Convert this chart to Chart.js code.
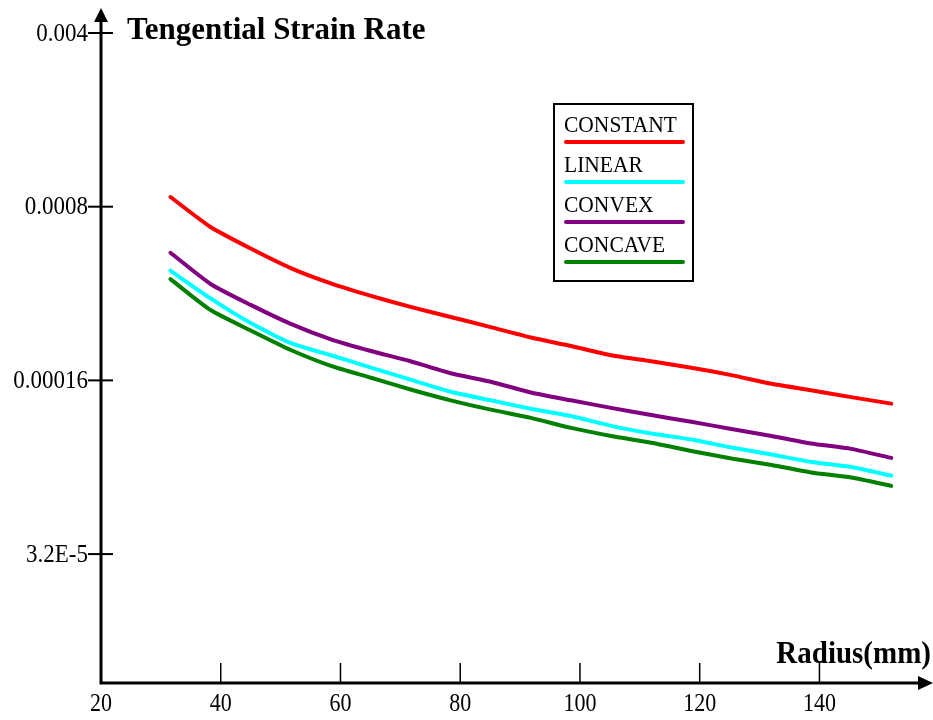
<!DOCTYPE html>
<html><head><meta charset="utf-8">
<script src="https://cdn.jsdelivr.net/npm/chart.js@4/dist/chart.umd.min.js"></script>
<style>html,body{margin:0;padding:0;background:#fff;}#wrap{width:933px;height:720px;position:relative;}</style>
</head><body><div id="wrap"><canvas id="c" width="933" height="720"></canvas></div>
<script>
const radius = [31.6, 38.3, 45.0, 51.7, 58.4, 65.1, 71.7, 78.4, 85.1, 91.8, 98.5, 105.2, 111.9, 118.6, 125.3, 132.0, 138.6, 145.3, 152.0];
const constantRate = [8.75e-4, 6.63e-4, 5.43e-4, 4.53e-4, 3.93e-4, 3.50e-4, 3.16e-4, 2.88e-4, 2.62e-4, 2.38e-4, 2.20e-4, 2.02e-4, 1.91e-4, 1.80e-4, 1.68e-4, 1.55e-4, 1.46e-4, 1.37e-4, 1.29e-4];
const linearRate = [4.42e-4, 3.42e-4, 2.72e-4, 2.26e-4, 2.02e-4, 1.80e-4, 1.61e-4, 1.44e-4, 1.33e-4, 1.23e-4, 1.15e-4, 1.05e-4, 9.78e-5, 9.25e-5, 8.59e-5, 8.05e-5, 7.51e-5, 7.17e-5, 6.62e-5];
const convexRate = [5.22e-4, 3.91e-4, 3.22e-4, 2.70e-4, 2.34e-4, 2.10e-4, 1.91e-4, 1.71e-4, 1.58e-4, 1.43e-4, 1.33e-4, 1.24e-4, 1.16e-4, 1.09e-4, 1.02e-4, 9.56e-5, 8.92e-5, 8.48e-5, 7.80e-5];
const concaveRate = [4.09e-4, 3.07e-4, 2.54e-4, 2.12e-4, 1.83e-4, 1.64e-4, 1.47e-4, 1.33e-4, 1.22e-4, 1.13e-4, 1.03e-4, 9.56e-5, 8.98e-5, 8.32e-5, 7.76e-5, 7.31e-5, 6.82e-5, 6.50e-5, 6.02e-5];
const seriesNames = ['CONSTANT', 'LINEAR', 'CONVEX', 'CONCAVE'];
const seriesColors = ['#ff0000', '#00ffff', '#800080', '#008000'];
const xTicks = [20, 40, 60, 80, 100, 120, 140];
const yTicks = [0.004, 0.0008, 0.00016, 3.2e-5];
const yTickLabels = ['0.004', '0.0008', '0.00016', '3.2E-5'];
const yTitle = 'Tengential Strain Rate';
const xTitle = 'Radius(mm)';

const allSeries = [constantRate, linearRate, convexRate, concaveRate];
const datasets = allSeries.map((vals, i) => ({
  label: seriesNames[i],
  data: radius.map((r, j) => ({x: r, y: vals[j]})),
  borderColor: seriesColors[i],
  backgroundColor: seriesColors[i],
  borderWidth: 4,
  pointRadius: 0,
  tension: 0.2,
  fill: false,
  borderCapStyle: 'round',
  borderJoinStyle: 'round'
}));

function tallText(ctx, text, x, y, sy) {
  ctx.save();
  ctx.translate(x, y);
  ctx.scale(1, sy);
  ctx.fillText(text, 0, 0);
  ctx.restore();
}

const axesPlugin = {
  id: 'axesPlugin',
  afterDraw(chart) {
    const ctx = chart.ctx;
    const xs = chart.scales.x, ys = chart.scales.y;
    const ca = chart.chartArea;
    const ax = xs.getPixelForValue(20);
    const ay = ca.bottom;
    ctx.save();
    ctx.strokeStyle = '#000';
    ctx.fillStyle = '#000';
    ctx.lineWidth = 3;
    ctx.beginPath();
    ctx.moveTo(ax, ay + 1.5);
    ctx.lineTo(ax, 20);
    ctx.moveTo(ax - 1.5, ay);
    ctx.lineTo(920, ay);
    ctx.stroke();
    ctx.beginPath();
    ctx.moveTo(ax, 8); ctx.lineTo(ax - 7, 22); ctx.lineTo(ax + 7, 22); ctx.closePath(); ctx.fill();
    ctx.beginPath();
    ctx.moveTo(933, ay); ctx.lineTo(918, ay - 7); ctx.lineTo(918, ay + 7); ctx.closePath(); ctx.fill();
    // y ticks
    ctx.lineWidth = 2;
    ctx.font = '23px "Liberation Serif"';
    ctx.textAlign = 'right';
    ctx.textBaseline = 'middle';
    yTicks.forEach((v, i) => {
      const py = ys.getPixelForValue(v);
      ctx.beginPath(); ctx.moveTo(ax - 13, py); ctx.lineTo(ax + 12, py); ctx.stroke();
      tallText(ctx, yTickLabels[i], ax - 13, py + 1, 1.1);
    });
    // x ticks
    ctx.lineWidth = 1.5;
    ctx.font = '22px "Liberation Serif"';
    ctx.textAlign = 'center';
    ctx.textBaseline = 'middle';
    xTicks.forEach(v => {
      const px = xs.getPixelForValue(v);
      if (v !== 20) { ctx.beginPath(); ctx.moveTo(px, ay - 20); ctx.lineTo(px, ay); ctx.stroke(); }
      tallText(ctx, String(v), px, ay + 22, 1.12);
    });
    // titles
    ctx.font = 'bold 31px "Liberation Serif"';
    ctx.textAlign = 'left';
    ctx.textBaseline = 'alphabetic';
    tallText(ctx, yTitle, 127, 39, 1.05);
    ctx.font = 'bold 29px "Liberation Serif"';
    ctx.textAlign = 'right';
    tallText(ctx, xTitle, 931, 663, 1.1);
    // legend
    ctx.lineWidth = 2;
    ctx.strokeRect(554, 104, 139, 177);
    ctx.font = '21.5px "Liberation Serif"';
    ctx.textAlign = 'left';
    ctx.textBaseline = 'middle';
    seriesNames.forEach((n, i) => {
      const ty = 126 + i * 40;
      ctx.fillStyle = '#000';
      tallText(ctx, n, 564, ty, 1.05);
      ctx.strokeStyle = seriesColors[i];
      ctx.lineWidth = 4;
      ctx.lineCap = 'round';
      ctx.beginPath(); ctx.moveTo(566, ty + 16); ctx.lineTo(683, ty + 16); ctx.stroke();
      ctx.strokeStyle = '#000';
      ctx.lineWidth = 2;
    });
    ctx.restore();
  }
};

new Chart(document.getElementById('c'), {
  type: 'line',
  data: {datasets},
  options: {
    responsive: false,
    animation: false,
    devicePixelRatio: 1,
    layout: {padding: {left: 101, right: 4, top: 33, bottom: 37}},
    plugins: {legend: {display: false}, tooltip: {enabled: false}},
    scales: {
      x: {type: 'linear', display: false, min: 20, max: 158.3, bounds: 'data'},
      y: {type: 'logarithmic', display: false, min: 9.69e-6, max: 0.004, bounds: 'data'}
    }
  },
  plugins: [axesPlugin]
});
</script>
</body></html>
